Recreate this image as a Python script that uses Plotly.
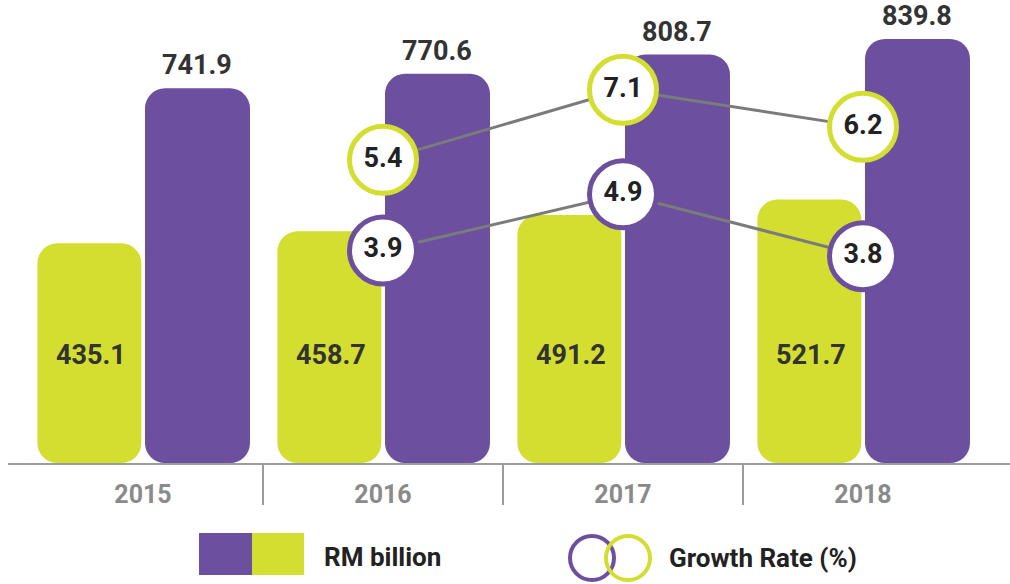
import plotly.graph_objects as go

# ---- data -------------------------------------------------------------
years = ["2015", "2016", "2017", "2018"]
rm_lime = [435.1, 458.7, 491.2, 521.7]      # RM billion, lime bars
rm_violet = [741.9, 770.6, 808.7, 839.8]    # RM billion, violet bars
growth_years = ["2016", "2017", "2018"]
growth_lime = [5.4, 7.1, 6.2]               # growth rate (%), lime rings
growth_violet = [3.9, 4.9, 3.8]             # growth rate (%), violet rings

# ---- styling ----------------------------------------------------------
W, H = 1010, 584
LIME = "#d3de30"
VIOLET = "#6c4f9f"
INK = "#222222"
GREY_TXT = "#8a8a8a"
AXIS_GREY = "#9c9c9c"
FONT = "Roboto"
PLOT_BOTTOM_PX = 463          # pixel row of the baseline
PX_PER_UNIT = 0.505           # bar scale
LIME_LABEL_Y = 214            # bar-axis height of the in-bar labels


def px_x(p):
    return p / W


def px_y(p):
    return 1 - p / H


fig = go.Figure()

# Bars drawn with an explicit base so both ends get rounded corners
bar_specs = [
    (rm_lime, LIME, -0.44, 0.433),
    (rm_violet, VIOLET, 0.0083, 0.4375),
]
for vals, color, off, wid in bar_specs:
    fig.add_trace(go.Bar(
        x=years, y=vals, base=0,
        offset=off, width=wid,
        marker=dict(color=color, line=dict(width=0), cornerradius=20),
        hoverinfo="skip", showlegend=False,
    ))

# Growth-rate lines with ringed markers
for vals, ring, axis in [(growth_lime, LIME, "y2"), (growth_violet, VIOLET, "y3")]:
    fig.add_trace(go.Scatter(
        x=growth_years, y=vals, yaxis=axis,
        mode="lines+markers+text",
        line=dict(color="#7b7b7b", width=3),
        marker=dict(size=67, color="white", line=dict(color=ring, width=5)),
        text=[f"{v:.1f}" for v in vals],
        textposition="middle center",
        textfont=dict(family=FONT, size=27, color=INK, weight=700),
        cliponaxis=False, hoverinfo="skip", showlegend=False,
    ))

annotations = []
# value labels inside the lime bars (x given as category index)
for i, v in enumerate(rm_lime):
    annotations.append(dict(
        x=i, y=LIME_LABEL_Y, xref="x", yref="y", text=f"{v:.1f}",
        showarrow=False, xshift=-52, yanchor="middle",
        font=dict(family=FONT, size=27, color="#333333", weight=700),
    ))
# value labels above the violet bars
for i, v in enumerate(rm_violet):
    annotations.append(dict(
        x=i, y=v, xref="x", yref="y", text=f"{v:.1f}",
        showarrow=False, xshift=54, yshift=23, yanchor="middle",
        font=dict(family=FONT, size=27, color="#333333", weight=700),
    ))

# legend texts
annotations.append(dict(
    x=px_x(322), y=px_y(557), xref="paper", yref="paper", text="RM billion",
    showarrow=False, xanchor="left", yanchor="middle",
    font=dict(family=FONT, size=26, color=INK, weight=700),
))
annotations.append(dict(
    x=px_x(667), y=px_y(558), xref="paper", yref="paper", text="Growth Rate (%)",
    showarrow=False, xanchor="left", yanchor="middle",
    font=dict(family=FONT, size=26, color=INK, weight=700),
))

shapes = []
# separators between year groups
for sep in [0.5, 1.5, 2.5]:
    shapes.append(dict(
        type="line", xref="x", yref="paper", x0=sep, x1=sep,
        y0=px_y(PLOT_BOTTOM_PX), y1=px_y(505),
        line=dict(color=AXIS_GREY, width=2),
    ))
# legend swatches
shapes.append(dict(type="rect", xref="paper", yref="paper",
                   x0=px_x(199), x1=px_x(252), y0=px_y(575), y1=px_y(533),
                   fillcolor=VIOLET, line=dict(width=0)))
shapes.append(dict(type="rect", xref="paper", yref="paper",
                   x0=px_x(252), x1=px_x(304), y0=px_y(575), y1=px_y(533),
                   fillcolor=LIME, line=dict(width=0)))
for cx, col in [(592, VIOLET), (628, LIME)]:
    shapes.append(dict(type="circle", xref="paper", yref="paper",
                       x0=px_x(cx - 22), x1=px_x(cx + 22),
                       y0=px_y(558 + 22), y1=px_y(558 - 22),
                       line=dict(color=col, width=4)))

fig.update_layout(
    width=W, height=H,
    margin=dict(l=0, r=0, t=0, b=0),
    paper_bgcolor="white", plot_bgcolor="white",
    barmode="overlay",
    showlegend=False,
    xaxis=dict(
        domain=[px_x(8), 1],
        range=[-0.5625, 3.6125],
        type="category",
        showline=True, linecolor=AXIS_GREY, linewidth=2,
        showgrid=False, zeroline=False, ticks="",
        tickfont=dict(family=FONT, size=25, color=GREY_TXT, weight=700),
        ticklabelstandoff=8,
        automargin=False,
    ),
    yaxis=dict(
        domain=[1 - PLOT_BOTTOM_PX / H, 1],
        range=[0, PLOT_BOTTOM_PX / PX_PER_UNIT],
        visible=False, showgrid=False, zeroline=False,
    ),
    yaxis2=dict(
        overlaying="y", range=[-1.96, 9.28],
        visible=False, showgrid=False, zeroline=False,
    ),
    yaxis3=dict(
        overlaying="y", range=[0.12, 8.358],
        visible=False, showgrid=False, zeroline=False,
    ),
    annotations=annotations,
    shapes=shapes,
)

fig.write_html("out.html")
